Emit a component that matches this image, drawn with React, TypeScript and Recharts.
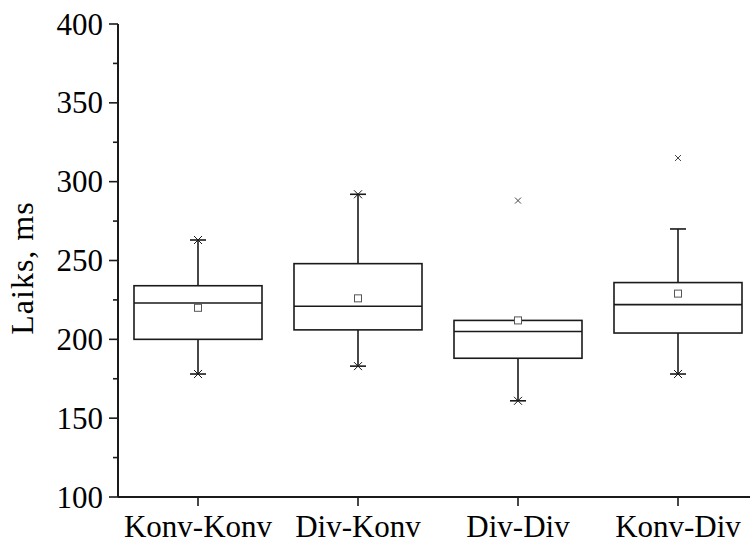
import { ComposedChart, Bar, Scatter, XAxis, YAxis } from 'recharts'

const categories = ['Konv-Konv', 'Div-Konv', 'Div-Div', 'Konv-Div']
const whiskerLow = [178, 183, 161, 178]
const q1 = [200, 206, 188, 204]
const median = [223, 221, 205, 222]
const q3 = [234, 248, 212, 236]
const whiskerHigh = [263, 292, 212, 270]
const means = [220, 226, 212, 229]
const outliers = [null, null, 288, 315]
const minMarks = [178, 183, 161, 178]
const maxMarks = [263, 292, null, null]
const yTicks = [100, 125, 150, 175, 200, 225, 250, 275, 300, 325, 350, 375, 400]

const data = categories.map((name, i) => ({
    name,
    range: [whiskerLow[i], whiskerHigh[i]],
    low: whiskerLow[i],
    high: whiskerHigh[i],
    q1: q1[i],
    median: median[i],
    q3: q3[i],
    mean: means[i],
    outlier: outliers[i],
    minMark: minMarks[i],
    maxMark: maxMarks[i],
}))

const FONT = '"Liberation Serif", "Times New Roman", serif'
const INK = '#1a1a1a'

const BoxShape = (props: any) => {
    const { x, y, width, height, payload } = props
    const { low, high } = payload
    // map values with the bar's own pixel span (scale is linear)
    const ppu = height / (high - low)
    const py = (v: number) => y + (high - v) * ppu
    const cx = x + width / 2
    const cap = 8
    return (
        <g stroke={INK} strokeWidth={1.6} fill="none">
            {high > payload.q3 && (
                <>
                    <line x1={cx} x2={cx} y1={py(high)} y2={py(payload.q3)} />
                    <line x1={cx - cap} x2={cx + cap} y1={py(high)} y2={py(high)} />
                </>
            )}
            {low < payload.q1 && (
                <>
                    <line x1={cx} x2={cx} y1={py(payload.q1)} y2={py(low)} />
                    <line x1={cx - cap} x2={cx + cap} y1={py(low)} y2={py(low)} />
                </>
            )}
            <rect
                x={x}
                y={py(payload.q3)}
                width={width}
                height={py(payload.q1) - py(payload.q3)}
                fill="#fff"
            />
            <line x1={x} x2={x + width} y1={py(payload.median)} y2={py(payload.median)} />
        </g>
    )
}

const makeCross = (key: string, r: number, color: string, w: number) => (p: any) => {
    if (p.payload[key] == null || p.cy == null || isNaN(p.cy)) return <g />
    return (
        <g stroke={color} strokeWidth={w}>
            <line x1={p.cx - r} x2={p.cx + r} y1={p.cy - r} y2={p.cy + r} />
            <line x1={p.cx - r} x2={p.cx + r} y1={p.cy + r} y2={p.cy - r} />
        </g>
    )
}

const MeanShape = (p: any) => {
    if (p.payload.mean == null) return <g />
    return (
        <rect x={p.cx - 3.5} y={p.cy - 3.5} width={7} height={7} fill="#fff" stroke="#555" strokeWidth={1} />
    )
}

const YTick = (props: any) => {
    const { x, y, payload } = props
    const major = payload.value % 50 === 0
    return (
        <g>
            <line x1={x - (major ? 9 : 5)} x2={x} y1={y} y2={y} stroke={INK} strokeWidth={1.6} />
            {major && (
                <text x={x - 15} y={y} dy="0.34em" textAnchor="end" fontSize={31} fontFamily={FONT} fill="#000">
                    {payload.value}
                </text>
            )}
        </g>
    )
}

const XTick = (props: any) => {
    const { x, y, payload } = props
    return (
        <text x={x} y={y} dy={21.5} textAnchor="middle" fontSize={31} fontFamily={FONT} fill="#000">
            {payload.value}
        </text>
    )
}

const YTitle = () => (
    <text
        x={33}
        y={268}
        transform="rotate(-90 33 268)"
        textAnchor="middle"
        fontSize={32}
        letterSpacing={1}
        fontFamily={FONT}
        fill="#000"
    >
        Laiks, ms
    </text>
)

export default function App() {
    return (
        <div style={{ position: 'absolute', left: 0, top: 0, width: 750, height: 542, overflow: 'hidden', background: '#fff' }}>
            <ComposedChart
                width={760}
                height={542}
                data={data}
                margin={{ top: 24, right: 2, left: 0, bottom: 0 }}
            >
                <XAxis
                    dataKey="name"
                    interval={0}
                    height={45}
                    tickSize={9}
                    tickMargin={9}
                    axisLine={{ stroke: INK, strokeWidth: 2 }}
                    tickLine={{ stroke: INK, strokeWidth: 1.6 }}
                    tick={<XTick />}
                />
                <YAxis
                    type="number"
                    domain={[100, 400]}
                    ticks={yTicks}
                    interval={0}
                    width={118}
                    tickSize={0}
                    tickMargin={0}
                    tickLine={false}
                    axisLine={{ stroke: INK, strokeWidth: 2 }}
                    tick={<YTick />}
                    label={{ content: () => <YTitle /> }}
                />
                <Bar dataKey="range" barSize={128} shape={BoxShape} isAnimationActive={false} />
                <Scatter dataKey="mean" shape={MeanShape} isAnimationActive={false} />
                <Scatter dataKey="outlier" shape={makeCross('outlier', 3, '#444', 1)} isAnimationActive={false} />
                <Scatter dataKey="minMark" shape={makeCross('minMark', 4, INK, 1)} isAnimationActive={false} />
                <Scatter dataKey="maxMark" shape={makeCross('maxMark', 4, INK, 1)} isAnimationActive={false} />
            </ComposedChart>
        </div>
    )
}
